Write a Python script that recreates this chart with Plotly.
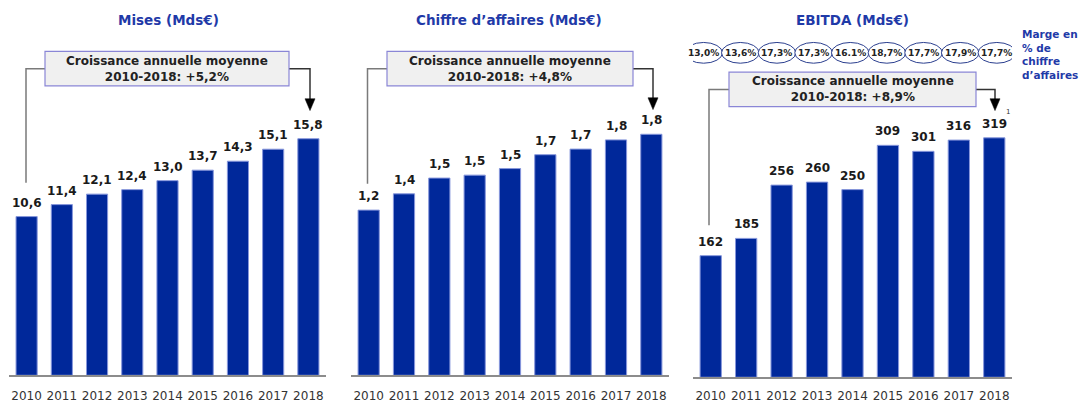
import plotly.graph_objects as go

# ---------------- data ----------------
years = ["2010", "2011", "2012", "2013", "2014", "2015", "2016", "2017", "2018"]
mises = [10.6, 11.4, 12.1, 12.4, 13.0, 13.7, 14.3, 15.1, 15.8]
chiffre = [1.237, 1.359, 1.477, 1.499, 1.548, 1.652, 1.694, 1.763, 1.805]
ebitda = [162, 185, 256, 260, 250, 309, 301, 316, 319]
marges = ["13,0%", "13,6%", "17,3%", "17,3%", "16.1%", "18,7%", "17,7%", "17,9%", "17,7%"]

titles = ["Mises (Mds€)", "Chiffre d\u2019affaires (Mds€)", "EBITDA (Mds€)"]
growth = ["+5,2%", "+4,8%", "+8,9%"]

# ---------------- layout helpers ----------------
W, H = 1081, 403
FONT = "DejaVu Sans"
BAR = "#00289a"
BLUE_T = "#1f3aa8"


def px(x):
    return x / W


def py(y):
    return 1 - y / H


def fmt(v, nd):
    return f"{v:.{nd}f}".replace(".", ",")


fig = go.Figure()

panels = [
    # values, decimals, x-domain px, baseline px, px per unit, axis suffix
    (mises, 1, (9, 326), 380, 15.16, ""),
    (chiffre, 1, (351, 669), 380, 135.2, "2"),
    (ebitda, 0, (693, 1012), 382, 0.76, "3"),
]

annotations = []
shapes = []

for k, (vals, nd, (xa, xb), base, scale, sfx) in enumerate(panels):
    xname = "x" + sfx
    yname = "y" + sfx
    fig.add_trace(go.Bar(
        x=years, y=vals, xaxis=xname, yaxis=yname,
        marker=dict(color=BAR, line=dict(color="#8797dc", width=1)),
        hoverinfo="x+y", showlegend=False,
    ))
    lay_x = "xaxis" + sfx
    lay_y = "yaxis" + sfx
    fig.update_layout({
        lay_x: dict(domain=[px(xa), px(xb)], anchor=yname, type="category",
                    categoryorder="array", categoryarray=years,
                    range=[-0.5, len(years) - 0.5], autorange=False,
                    showline=True, linecolor="#8c8c8c", linewidth=2,
                    showgrid=False, zeroline=False,
                    ticks="outside", ticklen=8 if sfx != "3" else 6,
                    tickcolor="rgba(0,0,0,0)",
                    tickfont=dict(family=FONT, size=12, color="#333333"),
                    fixedrange=True),
        lay_y: dict(domain=[py(base), 1], anchor=xname,
                    range=[0, base / scale], autorange=False,
                    visible=False, fixedrange=True),
    })
    for i, v in enumerate(vals):
        annotations.append(dict(
            x=i, y=v, xref=xname, yref=yname, text=fmt(v, nd),
            showarrow=False, yanchor="bottom", yshift=5,
            font=dict(family=FONT, size=12, color="#1a1a1a", weight="bold"),
        ))

# titles
for t, cx in zip(titles, [168, 509, 852]):
    annotations.append(dict(
        x=px(cx), y=py(20), xref="paper", yref="paper", text=t, showarrow=False,
        xanchor="center", yanchor="middle",
        font=dict(family=FONT, size=13.5, color=BLUE_T, weight="bold"),
    ))

# growth boxes + connectors
boxes = [
    # box x0, x1, y0, y1, left line x, left line bottom, right line x, arrow tip y
    (45, 289, 52, 87, 26, 185, 310, 112),
    (387, 633, 52, 87, 367.5, 186, 653, 111),
    (729, 976, 73, 108, 709, 228, 995, 112),
]
for (x0, x1, y0, y1, lx, lb, rx, tip), g in zip(boxes, growth):
    ym = (y0 + y1) / 2
    shapes.append(dict(type="path", xref="paper", yref="paper",
                       path=f"M {px(x0)},{py(ym)} L {px(lx)},{py(ym)} L {px(lx)},{py(lb)}",
                       line=dict(color="#7a7a7a", width=1.5)))
    shapes.append(dict(type="path", xref="paper", yref="paper",
                       path=f"M {px(x1)},{py(ym)} L {px(rx)},{py(ym)} L {px(rx)},{py(tip - 10)}",
                       line=dict(color="#333333", width=1.5)))
    shapes.append(dict(type="path", xref="paper", yref="paper",
                       path=f"M {px(rx - 5)},{py(tip - 12)} L {px(rx + 5)},{py(tip - 12)} L {px(rx)},{py(tip)} Z",
                       fillcolor="#000000", line=dict(color="#000000", width=0.5)))
    shapes.append(dict(type="rect", xref="paper", yref="paper",
                       x0=px(x0), x1=px(x1), y0=py(y1), y1=py(y0),
                       fillcolor="#f0f0f0", line=dict(color="#8a86d6", width=1.2)))
    annotations.append(dict(
        x=px((x0 + x1) / 2), y=py(ym), xref="paper", yref="paper",
        text=f"Croissance annuelle moyenne<br>2010-2018: {g}", showarrow=False,
        xanchor="center", yanchor="middle",
        font=dict(family=FONT, size=12, color="#222222", weight="bold"),
    ))

# margin ellipses above EBITDA
for i, m in enumerate(marges):
    c = -0.2 + 1.034 * i
    shapes.append(dict(type="circle", xref="x3", yref="paper",
                       x0=c - 0.53, x1=c + 0.53, y0=py(64), y1=py(43),
                       fillcolor="white", line=dict(color="#2b3f8f", width=1)))
    annotations.append(dict(
        x=c, y=py(53.5), xref="x3", yref="paper", text=m, showarrow=False,
        xanchor="center", yanchor="middle",
        font=dict(family=FONT, size=9, color="#222222", weight="bold"),
    ))

annotations.append(dict(
    x=px(1020), y=py(26), xref="paper", yref="paper",
    text="Marge en<br>% de<br>chiffre<br>d\u2019affaires", showarrow=False,
    xanchor="left", yanchor="top", align="left",
    font=dict(family=FONT, size=10.5, color=BLUE_T, weight="bold"),
))

# footnote marker
annotations.append(dict(
    x=px(1008), y=py(113), xref="paper", yref="paper", text="1", showarrow=False,
    xanchor="center", yanchor="middle",
    font=dict(family=FONT, size=7, color="#333333"),
))

fig.update_layout(
    width=W, height=H,
    margin=dict(l=0, r=0, t=0, b=0),
    paper_bgcolor="white", plot_bgcolor="white",
    bargap=0.4,
    showlegend=False,
    annotations=annotations,
    shapes=shapes,
)

fig.write_html(
    "out.html",
    config={"displayModeBar": False},
    post_script="document.body.style.margin='0';document.body.style.overflow='hidden';",
)
